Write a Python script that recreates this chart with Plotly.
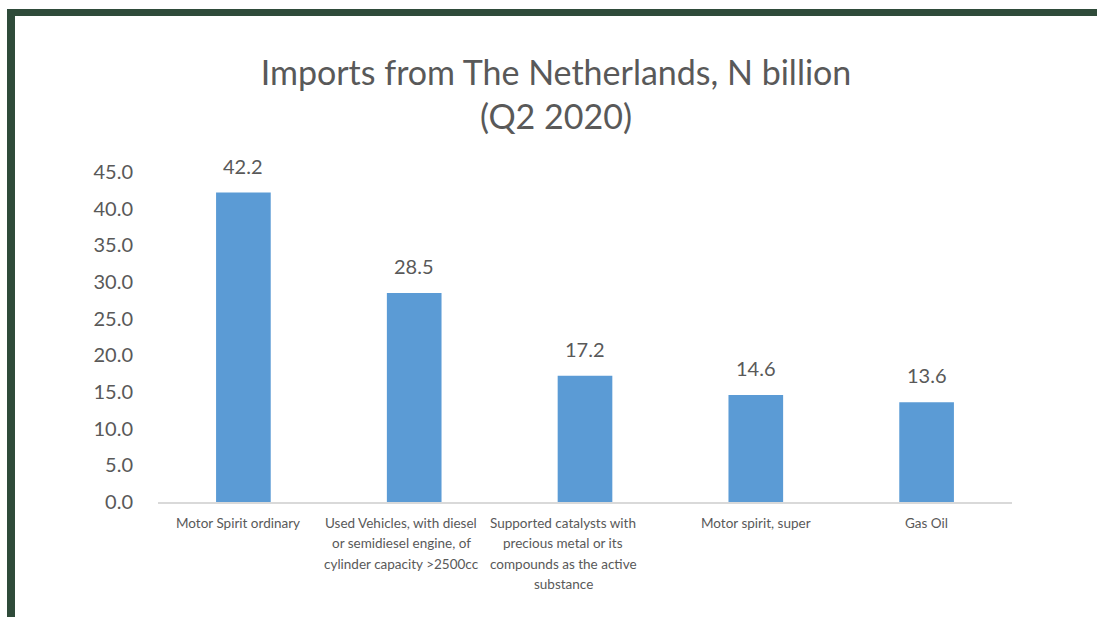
import plotly.graph_objects as go

# ---------------- data ----------------
categories = [
    "Motor Spirit ordinary",
    "Used Vehicles, with diesel or semidiesel engine, of cylinder capacity >2500cc",
    "Supported catalysts with precious metal or its compounds as the active substance",
    "Motor spirit, super",
    "Gas Oil",
]
category_lines = [
    ["Motor Spirit ordinary"],
    ["Used Vehicles, with diesel", "or semidiesel engine, of", "cylinder capacity >2500cc"],
    ["Supported catalysts with", "precious metal or its", "compounds as the active", "substance"],
    ["Motor spirit, super"],
    ["Gas Oil"],
]
values = [42.2, 28.5, 17.2, 14.6, 13.6]
y_tick_values = [0, 5, 10, 15, 20, 25, 30, 35, 40, 45]
y_tick_labels = ["0.0", "5.0", "10.0", "15.0", "20.0", "25.0", "30.0", "35.0", "40.0", "45.0"]
title_text = "Imports from The Netherlands, N billion<br>(Q2 2020)"

# ---------------- style ----------------
W, H = 1097, 617
ML, MR, MT, MB = 158, 85, 172, 115
FONT = "Lato, 'Open Sans', sans-serif"
GRAY = "#595959"
BAR = "#5B9BD5"
GREEN = "#2F4B3A"
label_xshift = [-5, -13, -22, 0, 0]

fig = go.Figure()
fig.add_trace(go.Bar(
    x=categories, y=values, marker=dict(color=BAR, line=dict(width=0)),
    hoverinfo="x+y",
))

annotations = []
# data labels
for c, v in zip(categories, values):
    annotations.append(dict(
        x=c, y=v, xref="x", yref="y", text=f"{v:.1f}", showarrow=False,
        yanchor="bottom", yshift=13, font=dict(family=FONT, size=20, color=GRAY),
    ))
# category labels (one annotation per wrapped line)
for i, (c, lines) in enumerate(zip(categories, category_lines)):
    for k, line in enumerate(lines):
        annotations.append(dict(
            x=c, y=0, xref="x", yref="paper", text=line, showarrow=False,
            yanchor="top", yshift=-11 - 20.3 * k, xshift=label_xshift[i],
            font=dict(family=FONT, size=13.5, color=GRAY),
        ))

def px_x(p):
    return (p - ML) / (W - ML - MR)

def px_y(p):
    return (H - MB - p) / (H - MT - MB)

shapes = [
    dict(type="rect", xref="paper", yref="paper", x0=px_x(7), x1=px_x(1100),
         y0=px_y(16), y1=px_y(9), fillcolor=GREEN, line=dict(width=0), layer="above"),
    dict(type="rect", xref="paper", yref="paper", x0=px_x(7), x1=px_x(15),
         y0=px_y(620), y1=px_y(9), fillcolor=GREEN, line=dict(width=0), layer="above"),
]

fig.update_layout(
    width=W, height=H,
    margin=dict(l=ML, r=MR, t=MT, b=MB, pad=0),
    paper_bgcolor="white", plot_bgcolor="white",
    bargap=0.68, showlegend=False,
    title=dict(text=title_text, xref="container", x=556 / W, xanchor="center",
               yref="container", y=1 - 85 / H, yanchor="top",
               font=dict(family=FONT, size=34, color=GRAY)),
    annotations=annotations, shapes=shapes,
    font=dict(family=FONT, color=GRAY),
)
fig.update_xaxes(showticklabels=False, showgrid=False, ticks="",
                 showline=True, linecolor="#D9D9D9", linewidth=2, zeroline=False)
fig.update_yaxes(range=[0, 45], tickvals=y_tick_values, ticktext=y_tick_labels,
                 showgrid=False, zeroline=False, showline=False,
                 ticks="outside", ticklen=20, tickcolor="rgba(0,0,0,0)",
                 tickfont=dict(family=FONT, size=20, color=GRAY))

fig.write_html(
    "out.html",
    config={"displayModeBar": False},
    post_script="document.body.style.margin='0';document.body.style.overflow='hidden';",
)
